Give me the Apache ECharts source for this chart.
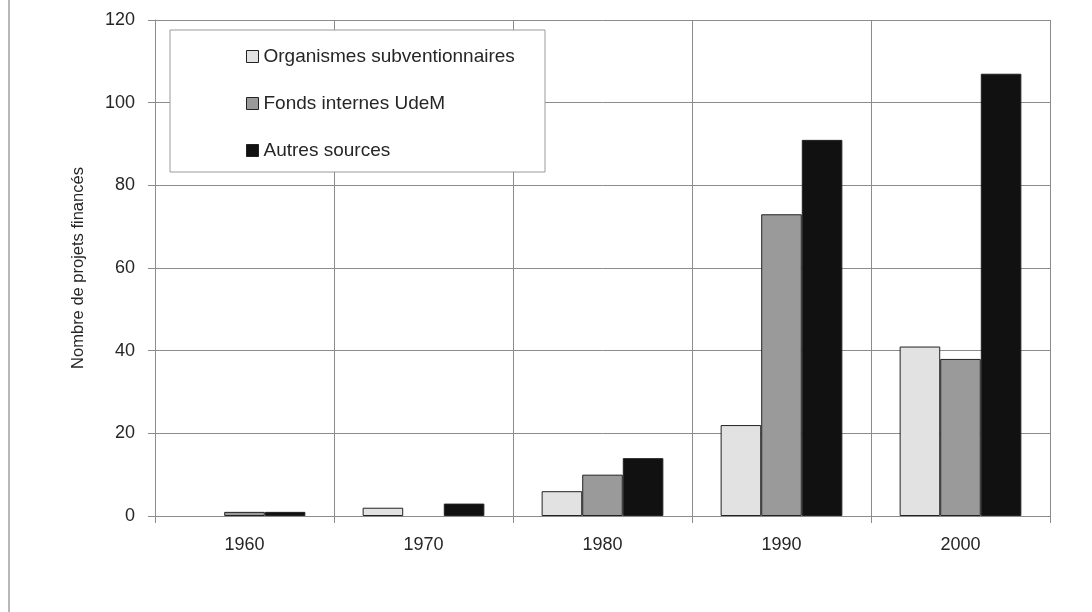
<!DOCTYPE html>
<html>
<head>
<meta charset="utf-8">
<script src="https://cdn.jsdelivr.net/npm/echarts@6/dist/echarts.min.js"></script>
<style>
html,body{margin:0;padding:0;background:#fff;}
#chart{width:1092px;height:612px;}
</style>
</head>
<body>
<div id="chart"></div>
<script>
const categories = ['1960', '1970', '1980', '1990', '2000'];
const seriesNames = ['Organismes subventionnaires', 'Fonds internes UdeM', 'Autres sources'];
const organismes = [0, 2, 6, 22, 41];
const fondsInternes = [1, 0, 10, 73, 38];
const autresSources = [1, 3, 14, 91, 107];
const yTicks = [0, 20, 40, 60, 80, 100, 120];
const yAxisName = 'Nombre de projets financés';

const font = '"Liberation Sans", Arial, sans-serif';
const gridColor = '#8c8c8c';
const textColor = '#262626';
const colors = ['#e2e2e2', '#9a9a9a', '#111111'];

const chart = echarts.init(document.getElementById('chart'), null, {renderer: 'canvas'});
const values = [organismes, fondsInternes, autresSources];

chart.setOption({
  animation: false,
  backgroundColor: '#ffffff',
  grid: {left: 155, right: 42, top: 20, bottom: 96, containLabel: false},
  graphic: [
    {type: 'line', shape: {x1: 9, y1: 0, x2: 9, y2: 612}, style: {stroke: '#b8b8b8', lineWidth: 2}, z: 0},
    {type: 'rect', shape: {x: 170, y: 30, width: 375, height: 142}, style: {fill: '#ffffff', stroke: '#9a9a9a', lineWidth: 1}, z: 10}
  ],
  legend: {
    orient: 'vertical',
    left: 246,
    top: 47,
    itemWidth: 12,
    itemHeight: 12,
    itemGap: 28,
    padding: 0,
    icon: 'rect',
    z: 20,
    textStyle: {fontFamily: font, fontSize: 19, color: textColor},
    itemStyle: {borderColor: '#222', borderWidth: 1},
    data: seriesNames
  },
  xAxis: {
    type: 'category',
    data: categories,
    boundaryGap: true,
    axisLine: {show: true, lineStyle: {color: gridColor, width: 1}},
    axisTick: {show: true, length: 7, alignWithLabel: false, lineStyle: {color: gridColor}},
    splitLine: {show: true, interval: 0, lineStyle: {color: gridColor, width: 1}},
    axisLabel: {margin: 20, fontFamily: font, fontSize: 18, color: textColor}
  },
  yAxis: {
    type: 'value',
    min: yTicks[0],
    max: yTicks[yTicks.length - 1],
    interval: yTicks[1] - yTicks[0],
    name: yAxisName,
    nameLocation: 'middle',
    nameGap: 68,
    nameTextStyle: {fontFamily: font, fontSize: 16.5, color: textColor},
    axisLine: {show: true, lineStyle: {color: gridColor, width: 1}},
    axisTick: {show: true, length: 7, lineStyle: {color: gridColor}},
    splitLine: {show: true, lineStyle: {color: gridColor, width: 1}},
    axisLabel: {margin: 20, fontFamily: font, fontSize: 18, color: textColor}
  },
  series: seriesNames.map((name, i) => ({
    name: name,
    type: 'bar',
    data: values[i].map(v => v === 0 ? {value: v, itemStyle: {borderWidth: 0}} : v),
    barGap: '0%',
    barCategoryGap: '32%',
    itemStyle: {color: colors[i], borderColor: '#222', borderWidth: 1}
  }))
});
</script>
</body>
</html>
